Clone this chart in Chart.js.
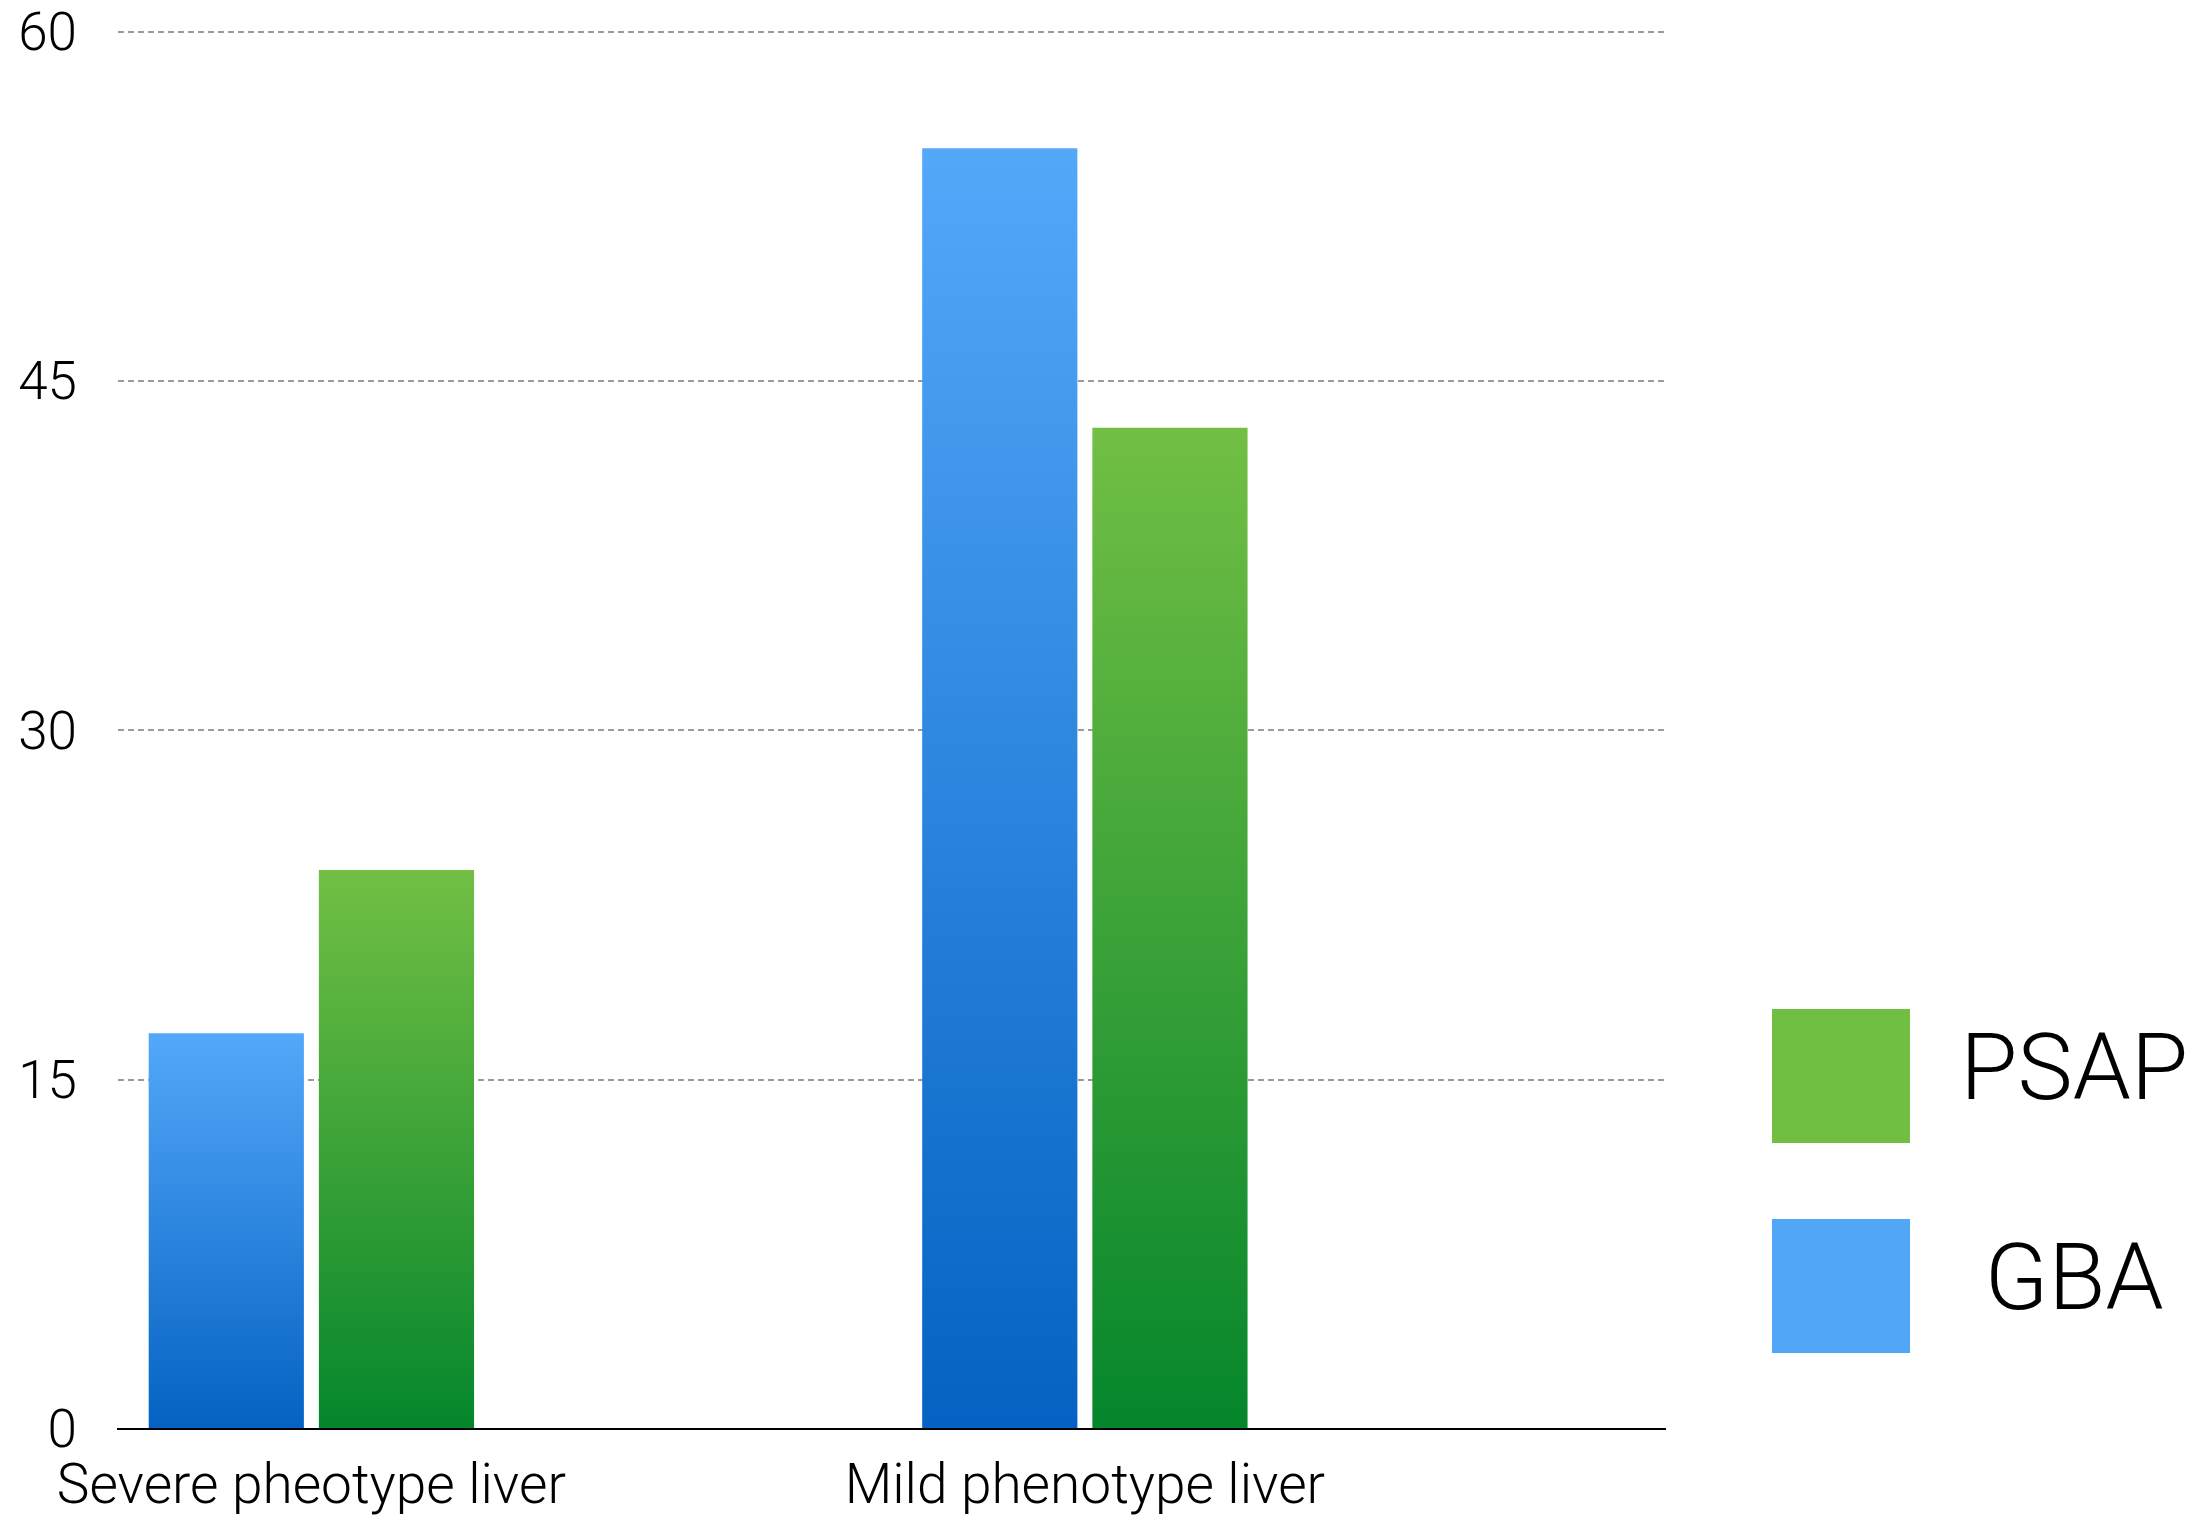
<!DOCTYPE html>
<html>
<head>
<meta charset="utf-8">
<script src="https://cdn.jsdelivr.net/npm/chart.js@4.4.1/dist/chart.umd.min.js"></script>
<style>
  html, body { margin: 0; padding: 0; background: #fff; }
  #wrap { width: 2192px; height: 1516px; }
</style>
</head>
<body>
<div id="wrap"><canvas id="chart"></canvas></div>
<script>
const categories = ['Severe pheotype liver', 'Mild phenotype liver'];
const gbaValues = [17, 55];
const psapValues = [24, 43];
const yTicks = [0, 15, 30, 45, 60];

const FONT = "Roboto, 'Helvetica Neue', 'Liberation Sans', sans-serif";

// vertical gradient per bar, light at the top, dark at the base
function barGradient(top, bottom) {
    return function(context) {
        const chart = context.chart;
        if (!chart.chartArea || !context.parsed) return top;
        const yScale = chart.scales.y;
        const y0 = yScale.getPixelForValue(0);
        const y1 = yScale.getPixelForValue(context.parsed.y);
        const g = chart.ctx.createLinearGradient(0, y1, 0, y0);
        g.addColorStop(0, top);
        g.addColorStop(1, bottom);
        return g;
    };
}

const toPoints = values => values.map((v, i) => ({ x: i, y: v }));

new Chart(document.getElementById('chart'), {
    type: 'bar',
    data: {
        datasets: [{
            label: 'GBA',
            data: toPoints(gbaValues),
            backgroundColor: barGradient('#53a8fa', '#0562c2'),
            legendColor: '#52a6f8'
        }, {
            label: 'PSAP',
            data: toPoints(psapValues),
            backgroundColor: barGradient('#72bf44', '#05862c'),
            legendColor: '#70bf42'
        }]
    },
    options: {
        responsive: true,
        maintainAspectRatio: false,
        animation: false,
        categoryPercentage: 0.44,
        barPercentage: 0.912,
        layout: { padding: 0 },
        scales: {
            x: {
                type: 'linear',
                min: -0.25,
                max: 1.75,
                offset: false,
                afterBuildTicks: s => { s.ticks = categories.map((c, i) => ({ value: i })); },
                afterFit: s => { s.height = 87; },
                grid: { display: false, drawTicks: false },
                border: { display: true, color: '#000', width: 2 },
                ticks: {
                    callback: v => categories[v],
                    color: '#000',
                    font: { family: FONT, size: 55, weight: 300 },
                    padding: 27,
                    maxRotation: 0,
                    autoSkip: false
                }
            },
            y: {
                min: 0,
                max: 60,
                afterBuildTicks: s => { s.ticks = yTicks.map(v => ({ value: v })); },
                afterFit: s => { s.width = 118; },
                grid: {
                    color: ctx => (ctx.tick && ctx.tick.value === 0) ? 'rgba(0,0,0,0)' : '#9b9b9b',
                    lineWidth: 2,
                    drawTicks: true,
                    tickLength: 41,
                    tickColor: 'rgba(0,0,0,0)'
                },
                border: { display: false, dash: [6, 4] },
                ticks: {
                    color: '#000',
                    font: { family: FONT, size: 53, weight: 300 },
                    padding: 0,
                    labelOffset: 5
                }
            },
            // empty axis, only keeps the legend away from the plot
            gap: {
                position: 'right',
                afterFit: s => { s.width = 31; },
                grid: { display: false, drawTicks: false },
                border: { display: false },
                ticks: { display: false }
            }
        },
        plugins: {
            legend: {
                position: 'right',
                fullSize: false,
                align: 'end',
                reverse: true,
                maxWidth: 496,
                labels: {
                    boxWidth: 138,
                    boxHeight: 134,
                    padding: 76,
                    textAlign: 'center',
                    color: '#000',
                    font: { family: FONT, size: 93, weight: 300 },
                    generateLabels: chart => chart.data.datasets.map((ds, i) => ({
                        text: ds.label,
                        fillStyle: ds.legendColor,
                        strokeStyle: ds.legendColor,
                        lineWidth: 0,
                        fontColor: '#000',
                        hidden: !chart.isDatasetVisible(i),
                        datasetIndex: i
                    }))
                }
            },
            tooltip: { enabled: false }
        }
    }
});
</script>
</body>
</html>
